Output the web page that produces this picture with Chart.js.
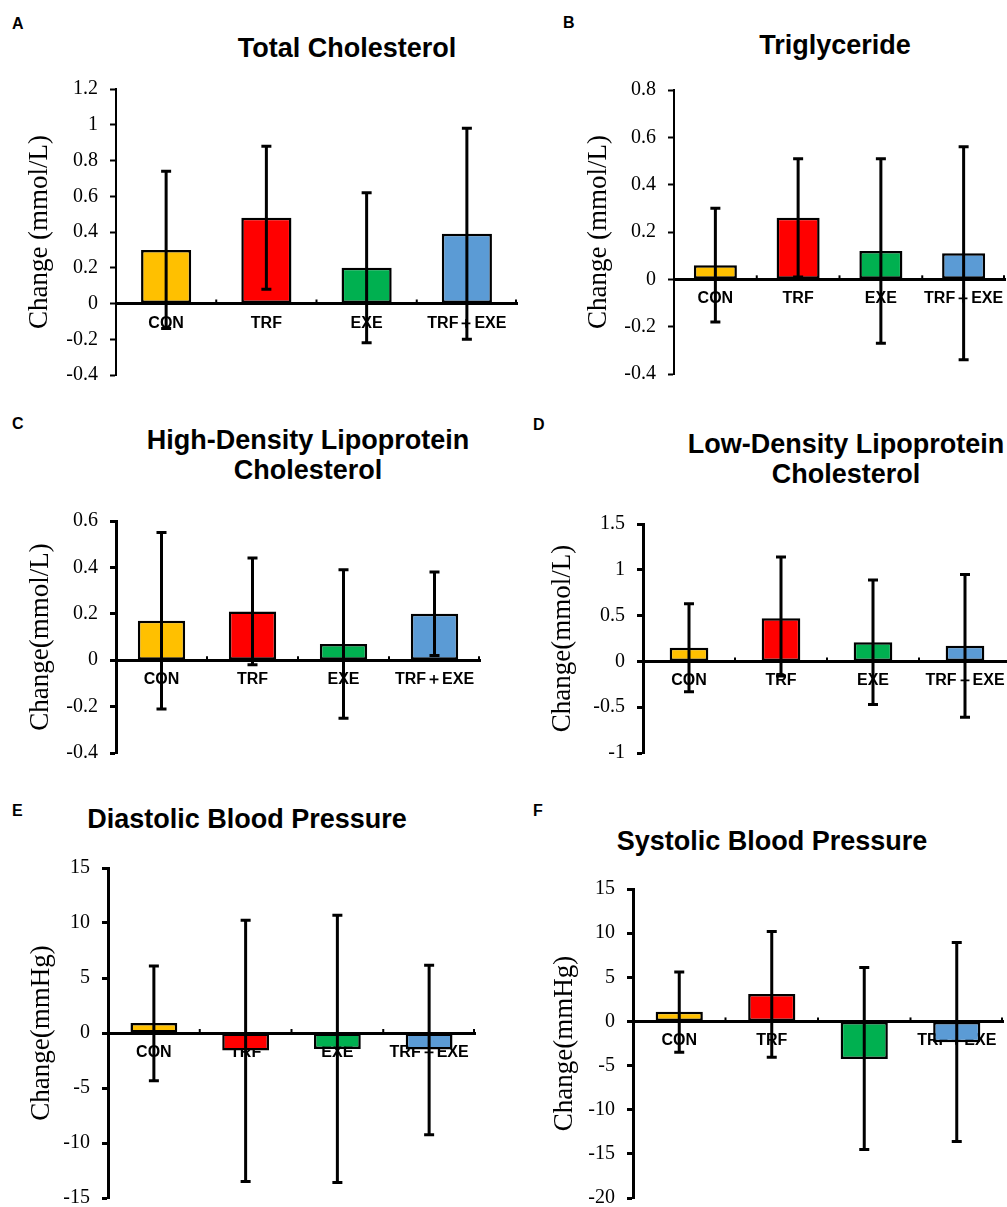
<!DOCTYPE html>
<html>
<head>
<meta charset="utf-8">
<script src="https://cdn.jsdelivr.net/npm/chart.js@4.4.1/dist/chart.umd.min.js"></script>
<style>
  html, body { margin: 0; padding: 0; background: #fff; width: 1007px; height: 1207px; overflow: hidden; position: relative; }
  canvas { position: absolute; }
  .lbl { position: absolute; font-family: Arial, "Liberation Sans", sans-serif; font-weight: bold; color: #000; white-space: nowrap; }
  .letter { font-size: 16px; line-height: 16px; }
  .ttl { font-size: 27px; line-height: 30px; text-align: center; transform: translateX(-50%); }
</style>
</head>
<body>
<div class="lbl letter" style="left:12px;top:16px;">A</div>
<div class="lbl letter" style="left:563px;top:15px;">B</div>
<div class="lbl letter" style="left:12px;top:416px;">C</div>
<div class="lbl letter" style="left:533px;top:417px;">D</div>
<div class="lbl letter" style="left:12px;top:803px;">E</div>
<div class="lbl letter" style="left:533px;top:803px;">F</div>

<div class="lbl ttl" style="left:347px;top:33px;">Total Cholesterol</div>
<div class="lbl ttl" style="left:835px;top:30px;">Triglyceride</div>
<div class="lbl ttl" style="left:308px;top:425px;">High-Density Lipoprotein<br>Cholesterol</div>
<div class="lbl ttl" style="left:846px;top:429px;">Low-Density Lipoprotein<br>Cholesterol</div>
<div class="lbl ttl" style="left:247px;top:804px;">Diastolic Blood Pressure</div>
<div class="lbl ttl" style="left:772px;top:826px;">Systolic Blood Pressure</div>

<canvas id="cA"></canvas>
<canvas id="cB"></canvas>
<canvas id="cC"></canvas>
<canvas id="cD"></canvas>
<canvas id="cE"></canvas>
<canvas id="cF"></canvas>

<script>
// ---------- data ----------
const groups = ['CON', 'TRF', 'EXE', 'TRF\uFF0BEXE'];
const barColors = ['#FFC000', '#FF0000', '#00B050', '#5B9BD5'];

// A: Total Cholesterol (mmol/L)
const tcMean  = [0.30, 0.48, 0.20, 0.39];
const tcUpper = [0.74, 0.88, 0.62, 0.98];
const tcLower = [-0.14, 0.08, -0.22, -0.20];
const tcTicks = [-0.4, -0.2, 0, 0.2, 0.4, 0.6, 0.8, 1, 1.2];

// B: Triglyceride (mmol/L)
const tgMean  = [0.06, 0.26, 0.12, 0.11];
const tgUpper = [0.30, 0.51, 0.51, 0.56];
const tgLower = [-0.18, 0.01, -0.27, -0.34];
const tgTicks = [-0.4, -0.2, 0, 0.2, 0.4, 0.6, 0.8];

// C: HDL cholesterol (mmol/L)
const hdlMean  = [0.17, 0.21, 0.07, 0.20];
const hdlUpper = [0.55, 0.44, 0.39, 0.38];
const hdlLower = [-0.21, -0.02, -0.25, 0.02];
const hdlTicks = [-0.4, -0.2, 0, 0.2, 0.4, 0.6];

// D: LDL cholesterol (mmol/L)
const ldlMean  = [0.15, 0.47, 0.21, 0.17];
const ldlUpper = [0.63, 1.14, 0.89, 0.95];
const ldlLower = [-0.33, -0.16, -0.47, -0.61];
const ldlTicks = [-1, -0.5, 0, 0.5, 1, 1.5];

// E: Diastolic blood pressure (mmHg)
const dbpMean  = [0.9, -1.6, -1.45, -1.5];
const dbpUpper = [6.1, 10.25, 10.7, 6.15];
const dbpLower = [-4.35, -13.5, -13.6, -9.25];
const dbpTicks = [-15, -10, -5, 0, 5, 10, 15];

// F: Systolic blood pressure (mmHg)
const sbpMean  = [1.1, 3.1, -4.25, -2.35];
const sbpUpper = [5.6, 10.2, 6.1, 8.95];
const sbpLower = [-3.5, -4.05, -14.5, -13.6];
const sbpTicks = [-20, -15, -10, -5, 0, 5, 10, 15];

// ---------- error bar + inner tick plugin ----------
const errorBarPlugin = {
  id: 'errorBars',
  afterDatasetsDraw(chart, args, opts) {
    const ctx = chart.ctx;
    const xs = chart.scales.x, ys = chart.scales.y;
    const meta = chart.getDatasetMeta(0);
    ctx.save();
    const zeroY = ys.getPixelForValue(0);
    ctx.strokeStyle = '#000';
    ctx.lineWidth = 2;
    const n = opts.upper.length;
    for (let i = 1; i <= n; i++) {
      const xp = i < n ? (xs.getPixelForValue(i - 1) + xs.getPixelForValue(i)) / 2 : chart.chartArea.right - 1;
      ctx.beginPath();
      ctx.moveTo(xp, zeroY);
      ctx.lineTo(xp, zeroY - 4);
      ctx.stroke();
    }
    ctx.lineWidth = 3;
    ctx.lineCap = 'butt';
    for (let i = 0; i < n; i++) {
      const x = meta.data[i].x;
      const yt = ys.getPixelForValue(opts.upper[i]);
      const yb = ys.getPixelForValue(opts.lower[i]);
      ctx.beginPath();
      ctx.moveTo(x, yt); ctx.lineTo(x, yb);
      ctx.moveTo(x - 5, yt); ctx.lineTo(x + 5, yt);
      ctx.moveTo(x - 5, yb); ctx.lineTo(x + 5, yb);
      ctx.stroke();
    }
    ctx.restore();
  }
};

// ---------- panel builder ----------
function makePanel(id, cfg) {
  const cv = document.getElementById(id);
  const padT = 14, padB = 14, padR = 4;
  const w = cfg.areaRight - cfg.canvasLeft + padR;
  const h = cfg.areaBottom - cfg.areaTop + padT + padB;
  cv.style.left = cfg.canvasLeft + 'px';
  cv.style.top = (cfg.areaTop - padT) + 'px';
  cv.width = w; cv.height = h;
  cv.style.width = w + 'px'; cv.style.height = h + 'px';
  const padL = cfg.titleX - 16 - cfg.canvasLeft;
  const yW = cfg.areaLeft - cfg.titleX + 16;
  const ticks = cfg.ticks;
  return new Chart(cv, {
    type: 'bar',
    data: {
      labels: groups,
      datasets: [{
        data: cfg.mean,
        backgroundColor: barColors,
        borderColor: '#000',
        borderWidth: 2.5,
        borderSkipped: false,
        barPercentage: cfg.barPct,
        categoryPercentage: 1
      }]
    },
    options: {
      responsive: false,
      animation: false,
      layout: { padding: { top: padT, bottom: padB, left: padL, right: padR } },
      plugins: {
        legend: { display: false },
        tooltip: { enabled: false },
        title: { display: false },
        errorBars: { upper: cfg.upper, lower: cfg.lower }
      },
      scales: {
        x: {
          position: { y: 0 },
          offset: true,
          afterFit: (s) => { s.height = 0; s.paddingLeft = 0; s.paddingRight = 0; },
          grid: { display: true, drawOnChartArea: false, drawTicks: false },
          border: { display: true, color: '#000', width: 3 },
          ticks: {
            color: '#000',
            padding: cfg.xPad,
            maxRotation: 0,
            autoSkip: false,
            font: { family: 'Arial, "Liberation Sans", sans-serif', weight: 'bold', size: 16 }
          }
        },
        y: {
          min: ticks[0],
          max: ticks[ticks.length - 1],
          afterBuildTicks: (s) => { s.ticks = ticks.map(v => ({ value: v })); },
          afterFit: (s) => { s.width = yW; s.paddingTop = 0; s.paddingBottom = 0; },
          grid: { display: true, drawOnChartArea: false, drawTicks: true, tickLength: 6, tickWidth: cfg.axisW, tickColor: '#000' },
          border: { display: true, color: '#000', width: cfg.axisW },
          ticks: {
            color: '#000',
            padding: 12,
            callback: (v) => String(v),
            font: { family: '"Times New Roman", "Liberation Serif", serif', size: 20 }
          },
          title: {
            display: true,
            text: cfg.yTitle,
            color: '#000',
            padding: 0,
            font: { family: '"Times New Roman", "Liberation Serif", serif', size: 27, lineHeight: 1.2 }
          }
        }
      }
    },
    plugins: [errorBarPlugin]
  });
}

makePanel('cA', { canvasLeft: 0, areaLeft: 116, areaRight: 517, areaTop: 89, areaBottom: 375, titleX: 40,
  mean: tcMean, upper: tcUpper, lower: tcLower, ticks: tcTicks, barPct: 0.5, axisW: 2, xPad: 10, yTitle: 'Change (mmol/L)' });
makePanel('cB', { canvasLeft: 520, areaLeft: 674, areaRight: 1005, areaTop: 90, areaBottom: 374, titleX: 599,
  mean: tgMean, upper: tgUpper, lower: tgLower, ticks: tgTicks, barPct: 0.52, axisW: 2, xPad: 10, yTitle: 'Change (mmol/L)' });
makePanel('cC', { canvasLeft: 0, areaLeft: 116, areaRight: 480, areaTop: 521, areaBottom: 753, titleX: 41,
  mean: hdlMean, upper: hdlUpper, lower: hdlLower, ticks: hdlTicks, barPct: 0.52, axisW: 3, xPad: 10, yTitle: 'Change(mmol/L)' });
makePanel('cD', { canvasLeft: 520, areaLeft: 643, areaRight: 1011, areaTop: 524, areaBottom: 753, titleX: 563,
  mean: ldlMean, upper: ldlUpper, lower: ldlLower, ticks: ldlTicks, barPct: 0.42, axisW: 3, xPad: 10, yTitle: 'Change(mmol/L)' });
makePanel('cE', { canvasLeft: 0, areaLeft: 108, areaRight: 475, areaTop: 868, areaBottom: 1198, titleX: 42,
  mean: dbpMean, upper: dbpUpper, lower: dbpLower, ticks: dbpTicks, barPct: 0.51, axisW: 3, xPad: 10, yTitle: 'Change(mmHg)' });
makePanel('cF', { canvasLeft: 520, areaLeft: 633, areaRight: 1003, areaTop: 889, areaBottom: 1198, titleX: 565,
  mean: sbpMean, upper: sbpUpper, lower: sbpLower, ticks: sbpTicks, barPct: 0.51, axisW: 3, xPad: 10, yTitle: 'Change(mmHg)' });
</script>
</body>
</html>
